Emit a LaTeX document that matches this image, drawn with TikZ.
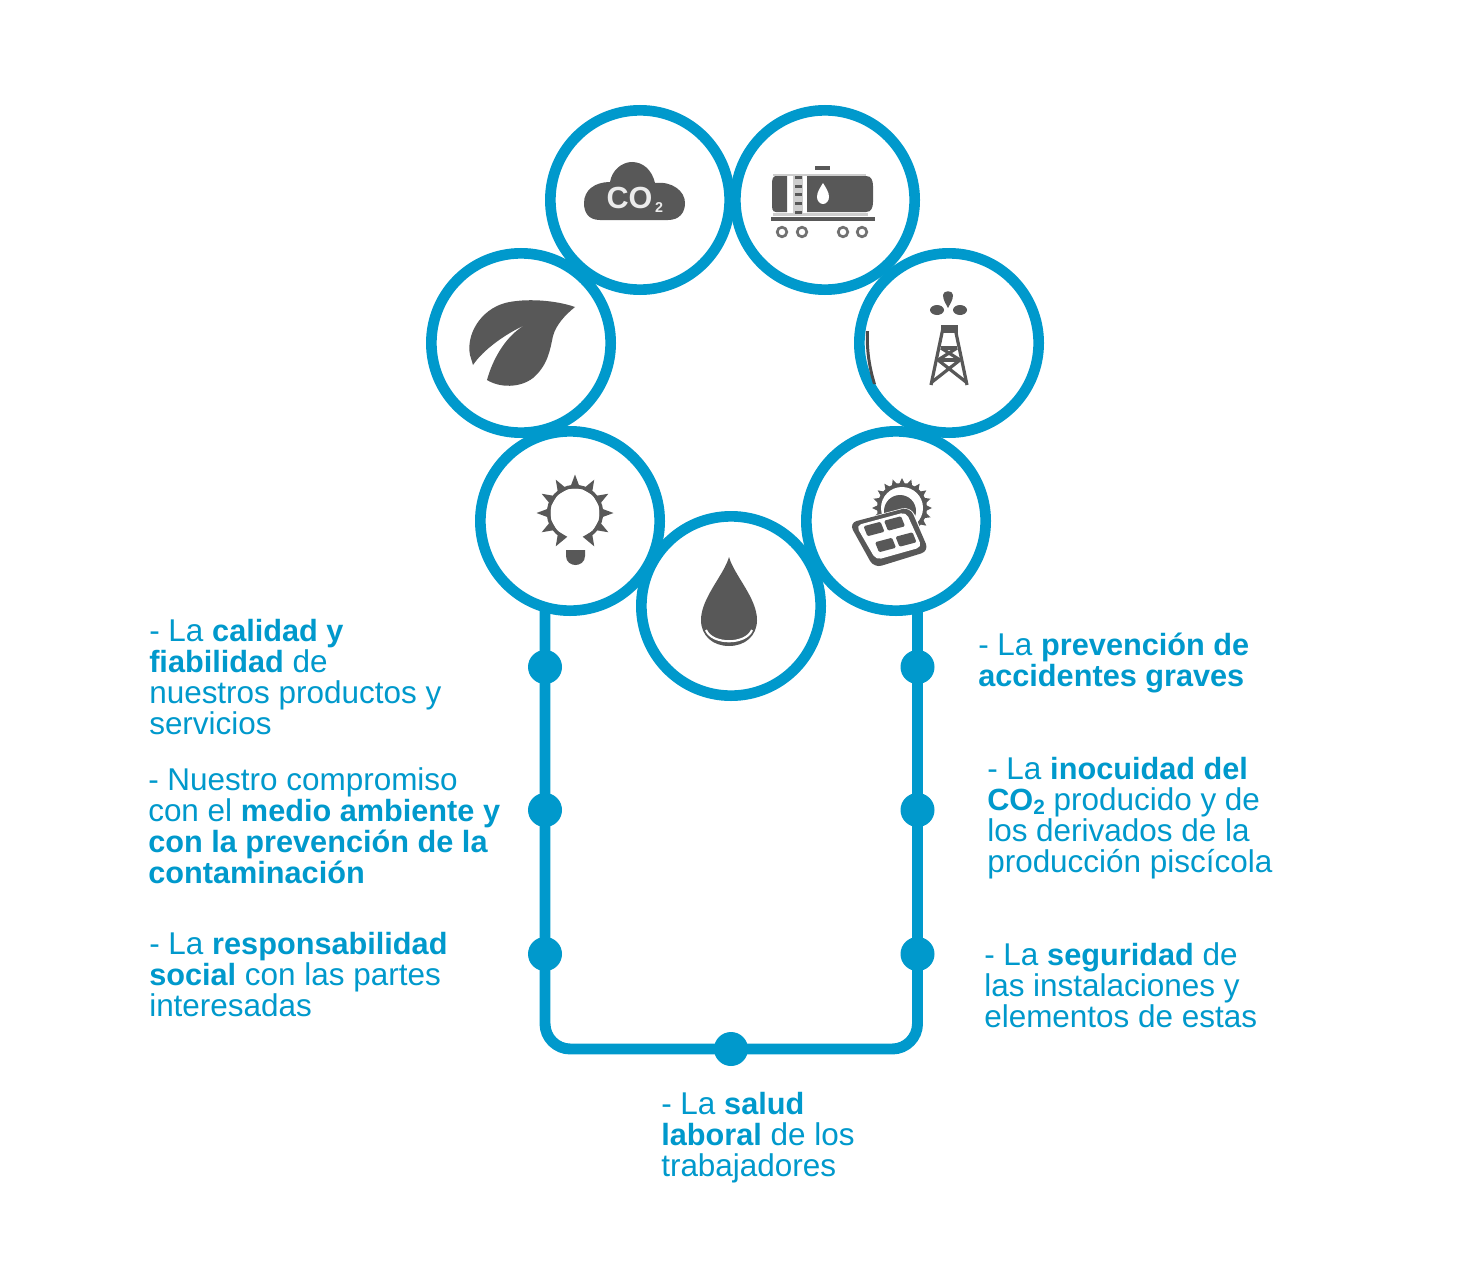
\documentclass[tikz,border=0pt]{standalone}
\usepackage{fontspec}
\usetikzlibrary{calc}
\setmainfont[BoldFeatures={Scale=0.975}]{Liberation Sans}
\definecolor{brand}{RGB}{0,153,204}
\definecolor{icongray}{RGB}{88,88,88}
\newcommand{\subtwo}{\raisebox{-0.12em}{\fontsize{16}{16}\selectfont 2}}
\tikzset{
  x=0.75pt,y=-0.75pt,
  ringnode/.style={circle,draw=brand,line width=8pt,fill=white,minimum size=134.5pt,inner sep=0pt},
  dotnode/.style={circle,fill=brand,minimum size=25.5pt,inner sep=0pt},
  frameline/.style={draw=brand,line width=8.2pt,rounded corners=19pt},
  textblock/.style={anchor=north west,inner sep=0pt,align=left,text=brand,font=\fontsize{23.6}{23.25}\selectfont},
  icon/.style={fill=icongray,draw=none},
  iconline/.style={draw=icongray,line width=2.4pt}
}
\begin{document}
\begin{tikzpicture}
\useasboundingbox (0,0) rectangle (1469,1277);
\fill[white] (0,0) rectangle (1469,1277);
% frame
\coordinate (fl) at (545,600);
\coordinate (fr) at (917.5,600);
\node[dotnode] (dB) at (731,1049) {};
\draw[frameline] (fl) |- (dB.center) -| (fr);
\node[dotnode] (dl1) at (545,667) {};
\node[dotnode] (dl2) at (545,810) {};
\node[dotnode] (dl3) at (545,954) {};
\node[dotnode] (dr1) at (917.5,667) {};
\node[dotnode] (dr2) at (917.5,810) {};
\node[dotnode] (dr3) at (917.5,954) {};
% rings
\node[ringnode] (cloud) at (640,200) {};
\node[ringnode] (tank) at (825,200) {};
\node[ringnode] (leaf) at (521,343) {};
\node[ringnode] (tower) at (949,343) {};
\node[ringnode] (bulb) at (570,521) {};
\node[ringnode] (solar) at (896,521) {};
\node[ringnode] (drop) at (731,606) {};
% cloud icon
\fill[icon] (600,220) .. controls (588,220) and (584,212) .. (584,203) .. controls (584,190) and (595,182) .. (610,182)
  .. controls (612,170) and (622,162) .. (632,162) .. controls (643,162) and (652,170) .. (655,183)
  .. controls (672,181) and (685,191) .. (685,203) .. controls (685,213) and (679,220) .. (668,220) -- cycle;
\node[text=white!92!black,inner sep=0pt,font=\fontsize{23.5}{23.5}\selectfont\bfseries] (co) at (629.5,198) {CO};
\node[text=white!92!black,inner sep=0pt,font=\fontsize{11}{11}\selectfont\bfseries] (cosub) at (659,208) {2};
% tank icon
\fill[icon] (776,176) -- (787,176) -- (787,212) -- (776,212) .. controls (772,212) and (772,208) .. (772,204) -- (772,184) .. controls (772,179) and (773,176) .. (776,176) -- cycle;
\fill[icon] (807,176) -- (866,176) .. controls (871,176) and (873,180) .. (873,186) -- (873,202) .. controls (873,208) and (871,212) .. (866,212) -- (807,212) -- cycle;
\fill[white] (823,183) .. controls (826,188) and (829,192) .. (829,197) .. controls (829,201) and (826,204) .. (823,204) .. controls (820,204) and (817,201) .. (817,197) .. controls (817,192) and (820,188) .. (823,183) -- cycle;
\fill[icongray!30] (793,174) rectangle (803,216);
\fill[icongray!30] (773,174) rectangle (866,175.5);
\fill[icongray!30] (773,213) rectangle (868,216);
\foreach \ry in {177,186,194,203,212} \fill[icon] (795,\ry-1.5) rectangle (802,\ry+1.5);
\fill[icon] (815,166) rectangle (830,170);
\fill[icon] (771,217) rectangle (875,221);
\foreach \wx in {782,802,843,862} \draw[icongray!85,line width=2pt,fill=white] (\wx,232) circle (4.8);
% leaf icon
\fill[icon] (575,307) .. controls (555,300) and (525,298) .. (505,303) .. controls (480,310) and (466,335) .. (470,355) -- (473,365)
  .. controls (483,350) and (505,334) .. (527,324) .. controls (507,334) and (493,358) .. (487,380)
  .. controls (500,388) and (520,388) .. (533,378) .. controls (548,365) and (550,350) .. (553,336) .. controls (556,325) and (565,315) .. (575,307) -- cycle;
% tower icon
\fill[icon] (943,295) .. controls (943,290) and (953,290) .. (953,295) .. controls (953,300) and (950,304) .. (948,308) .. controls (946,304) and (943,300) .. (943,295) -- cycle;
\fill[icon] (937,310) ellipse (7 and 5);
\fill[icon] (960,310) ellipse (7 and 5);
\fill[icon] (941,325) rectangle (958,333);
\draw[iconline] (943,328) -- (931,385) (955,328) -- (967,385);
\draw[iconline] (941,348) -- (957,348) (938,360) -- (960,360);
\draw[iconline] (941,348) -- (960,360) (957,348) -- (938,360);
\draw[iconline] (938,360) -- (966,382) (960,360) -- (932,382);
% sliver inside the tower ring
\fill[black!70] (866,331) -- (869,331) .. controls (868,350) and (871,368) .. (876,384) -- (873,384) .. controls (868,368) and (865,350) .. (866,331) -- cycle;
% bulb icon
\foreach \a in {120,150,...,420}
  \fill[icon] ($(575,513)+(\a-12:25)$) -- ($(575,513)+(\a:38.5)$) -- ($(575,513)+(\a+12:25)$) -- cycle;
\draw[icongray,line width=2.6pt] ($(575,513)+(120:26.5)$) arc[start angle=120,end angle=420,radius=26.5];
\fill[icon] (566,550) -- (585,550) -- (585,556) .. controls (585,562) and (580,565) .. (575.5,565) .. controls (571,565) and (566,562) .. (566,556) -- cycle;
% solar icon
\foreach \a in {0,18,...,342}
  \fill[icon] ($(902,508)+(\a-7:24)$) -- ($(902,508)+(\a:30)$) -- ($(902,508)+(\a+7:24)$) -- cycle;
\fill[icon] (902,508) circle (25);
\fill[white] (902,508) circle (21);
\fill[icon] (900,511) circle (16);
\fill[white,draw=white,line width=5pt,line join=round,rounded corners=5pt] (852,525) -- (909,510) -- (926,550) -- (875,565) -- cycle;
\fill[icon,rounded corners=6pt] (849,523) -- (910,507) -- (929,551) -- (874,568) -- cycle;
\fill[white,rounded corners=4pt] (856,525.5) -- (906,512) -- (922,547) -- (876,560) -- cycle;
\foreach \cx/\cy in {874/529,894.5/523.5,885.5/545,906/539.5}
  \fill[icon,rounded corners=1pt] (\cx,\cy) ++(-10.5,-2.75) -- ++(17,-4.5) -- ++(4,10) -- ++(-17,4.5) -- cycle;
% drop icon
\fill[icon] (729,557) .. controls (724,575) and (701,598) .. (701,620) .. controls (701,636) and (713,646) .. (729,646) .. controls (745,646) and (757,636) .. (757,620) .. controls (757,598) and (734,575) .. (729,557) -- cycle;
\draw[white,line width=1.6pt] (706,630) .. controls (712,645) and (746,645) .. (752,630);
% labels
\node[textblock] (t1) at (149,619) {- La \textbf{calidad y}\\\textbf{fiabilidad} de\\nuestros productos y\\servicios};
\node[textblock] (t2) at (148,767) {- Nuestro compromiso\\con el \textbf{medio ambiente y}\\\textbf{con la prevención de la}\\\textbf{contaminación}};
\node[textblock] (t3) at (149,932) {- La \textbf{responsabilidad}\\\textbf{social} con las partes\\interesadas};
\node[textblock] (t4) at (978,633) {- La \textbf{prevención de}\\\textbf{accidentes graves}};
\node[textblock] (t5) at (987,757) {- La \textbf{inocuidad del}\\\textbf{CO\subtwo{}} producido y de\\los derivados de la\\producción piscícola};
\node[textblock] (t6) at (984,942) {- La \textbf{seguridad} de\\las instalaciones y\\elementos de estas};
\node[textblock] (t7) at (661,1092) {- La \textbf{salud}\\\textbf{laboral} de los\\trabajadores};
\end{tikzpicture}
\end{document}
